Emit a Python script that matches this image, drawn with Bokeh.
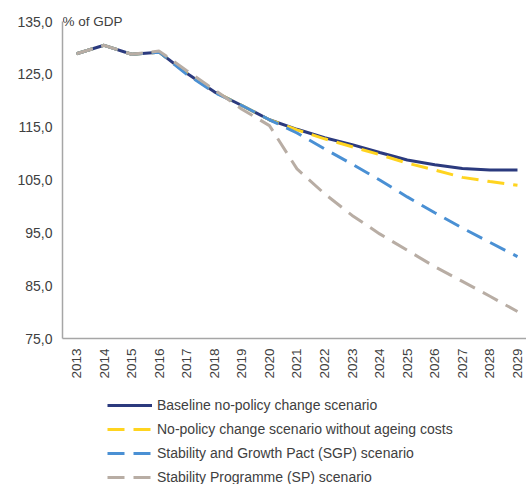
from bokeh.plotting import figure
from bokeh.models import Range1d, FixedTicker, Legend, LegendItem, Label
from bokeh.layouts import column
from bokeh.embed import file_html
from bokeh.resources import INLINE
import math

years = list(range(2013, 2030))
year_labels = [str(y) for y in years]
baseline = [128.9, 130.5, 128.8, 129.2, 125.2, 121.7, 119.1, 116.4, 114.6, 113.0, 111.7, 110.2, 108.8, 107.9, 107.2, 106.9, 106.9]
no_ageing = [128.9, 130.5, 128.8, 129.2, 125.2, 121.7, 119.1, 116.4, 114.5, 112.8, 111.3, 109.8, 108.2, 106.9, 105.5, 104.7, 104.0]
sgp = [128.9, 130.5, 128.8, 129.2, 125.0, 121.6, 119.1, 116.4, 113.9, 110.9, 108.0, 105.0, 101.8, 98.8, 95.9, 93.2, 90.5]
sp = [128.9, 130.5, 128.8, 129.4, 125.7, 122.1, 118.4, 115.3, 107.1, 102.4, 98.3, 94.8, 91.7, 88.6, 85.8, 83.0, 80.1]
y_ticks = [75, 85, 95, 105, 115, 125, 135]
y_tick_labels = ["75,0", "85,0", "95,0", "105,0", "115,0", "125,0", "135,0"]
series_names = ["Baseline no-policy change scenario",
                "No-policy change scenario without ageing costs",
                "Stability and Growth Pact (SGP) scenario",
                "Stability Programme (SP) scenario"]
unit_label = "% of GDP"

FONT = "Liberation Sans"
TXT = "#404040"
COLORS = ["#2B3A7E", "#FFD41F", "#4A90D4", "#B8ADA4"]
DASHES = ["solid", "17 9", "17 9", "17 9"]
series = [baseline, no_ageing, sgp, sp]

p = figure(width=526, height=390, output_backend="svg", toolbar_location=None,
           x_range=Range1d(2012.492, 2029.327), y_range=Range1d(75, 136.52),
           min_border_left=62, min_border_top=13, min_border_bottom=52, min_border_right=0)
p.outline_line_color = None
p.xgrid.grid_line_color = None
p.ygrid.grid_line_color = None

p.yaxis.ticker = FixedTicker(ticks=y_ticks)
p.yaxis.major_label_overrides = {t: l for t, l in zip(y_ticks, y_tick_labels)}
p.yaxis.bounds = (75, 135)
p.xaxis.ticker = FixedTicker(ticks=years)
p.xaxis.major_label_overrides = {y: l for y, l in zip(years, year_labels)}
p.xaxis.major_label_orientation = math.pi / 2
for ax in (p.xaxis, p.yaxis):
    ax.axis_line_color = "#a6a6a6"
    ax.axis_line_width = 1.5
    ax.major_tick_line_color = None
    ax.minor_tick_line_color = None
    ax.major_tick_out = 0
    ax.major_tick_in = 0
    ax.major_label_text_font = FONT
    ax.major_label_text_color = TXT
p.yaxis.major_label_text_font_size = "14px"
p.xaxis.major_label_text_font_size = "13.5px"
p.yaxis.major_label_standoff = 10
p.xaxis.major_label_standoff = 10

for vals, c, d in zip(series, COLORS, DASHES):
    p.line(years, vals, line_color=c, line_width=3, line_dash=d)

p.add_layout(Label(x=2012.492, y=135, text=unit_label, text_font=FONT, text_font_size="13.5px",
                   text_color=TXT, text_baseline="middle", text_align="left", x_offset=0))

# legend panel below the chart (its own figure; the series sit outside its visible range)
lg = figure(width=526, height=94, output_backend="svg", toolbar_location=None,
            x_range=Range1d(0, 1), y_range=Range1d(0, 1),
            x_axis_location=None, y_axis_location=None,
            min_border_left=62, min_border_right=0, min_border_top=0, min_border_bottom=0)
lg.outline_line_color = None
lg.xgrid.grid_line_color = None
lg.ygrid.grid_line_color = None
proxies = [lg.line(years, vals, line_color=c, line_width=3, line_dash=d)
           for vals, c, d in zip(series, COLORS, DASHES)]
legend = Legend(items=[LegendItem(label=n, renderers=[r]) for n, r in zip(series_names, proxies)],
                location=(45, -5), orientation="vertical",
                padding=0, margin=0, spacing=0, label_height=24, glyph_height=24, glyph_width=45,
                label_standoff=5, border_line_color=None, background_fill_alpha=0,
                label_text_font=FONT, label_text_font_size="14px", label_text_color=TXT)
lg.add_layout(legend)

layout = column(p, lg, spacing=0)
open("out.html", "w").write(file_html(layout, INLINE))
